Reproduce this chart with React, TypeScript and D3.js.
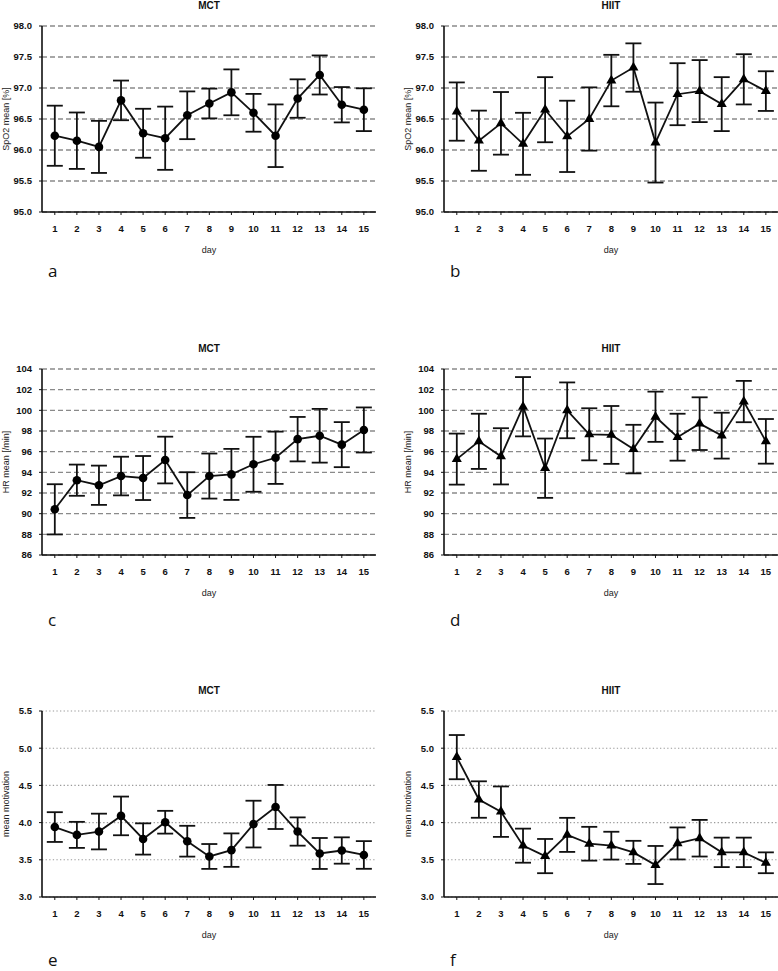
import React, { useEffect, useRef } from "react";
import * as d3 from "d3";

const days = [1, 2, 3, 4, 5, 6, 7, 8, 9, 10, 11, 12, 13, 14, 15];

const spo2MctMean = [96.23, 96.15, 96.05, 96.8, 96.27, 96.19, 96.56, 96.75, 96.93, 96.6, 96.23, 96.83, 97.21, 96.73, 96.65];
const spo2MctSd = [0.485, 0.455, 0.42, 0.32, 0.395, 0.51, 0.385, 0.24, 0.37, 0.305, 0.505, 0.31, 0.315, 0.285, 0.345];
const spo2HiitMean = [96.62, 96.15, 96.43, 96.1, 96.65, 96.22, 96.5, 97.12, 97.33, 96.12, 96.9, 96.95, 96.74, 97.14, 96.95];
const spo2HiitSd = [0.47, 0.485, 0.505, 0.5, 0.525, 0.575, 0.51, 0.415, 0.39, 0.645, 0.5, 0.5, 0.435, 0.405, 0.32];

const hrMctMean = [90.42, 93.24, 92.75, 93.64, 93.45, 95.19, 91.8, 93.64, 93.8, 94.78, 95.41, 97.21, 97.54, 96.68, 98.1];
const hrMctSd = [2.43, 1.51, 1.9, 1.87, 2.13, 2.26, 2.21, 2.18, 2.47, 2.66, 2.53, 2.15, 2.6, 2.18, 2.18];
const hrHiitMean = [95.28, 97.0, 95.55, 100.35, 94.4, 100.0, 97.68, 97.62, 96.25, 99.38, 97.4, 98.71, 97.55, 100.85, 97.0];
const hrHiitSd = [2.47, 2.67, 2.72, 2.87, 2.87, 2.7, 2.52, 2.8, 2.35, 2.43, 2.27, 2.55, 2.22, 2.0, 2.16];

const motMctMean = [3.94, 3.835, 3.88, 4.09, 3.78, 4.005, 3.75, 3.545, 3.63, 3.98, 4.21, 3.88, 3.585, 3.625, 3.565];
const motMctSd = [0.2, 0.175, 0.24, 0.26, 0.21, 0.153, 0.207, 0.167, 0.225, 0.314, 0.296, 0.19, 0.208, 0.177, 0.186];
const motHiitMean = [4.88, 4.31, 4.147, 3.69, 3.55, 3.835, 3.716, 3.69, 3.6, 3.43, 3.72, 3.79, 3.6, 3.6, 3.46];
const motHiitSd = [0.297, 0.245, 0.339, 0.229, 0.23, 0.229, 0.227, 0.187, 0.155, 0.256, 0.215, 0.246, 0.198, 0.198, 0.14];

const spo2Ticks = [95.0, 95.5, 96.0, 96.5, 97.0, 97.5, 98.0];
const hrTicks = [86, 88, 90, 92, 94, 96, 98, 100, 102, 104];
const motTicks = [3.0, 3.5, 4.0, 4.5, 5.0, 5.5];

const panels = [
  { letter: "a", title: "MCT", ylabel: "SpO2 mean [%]", mean: spo2MctMean, sd: spo2MctSd, ticks: spo2Ticks, fmt: ".1f", marker: "circle", col: 0, row: 0, dotted: false },
  { letter: "b", title: "HIIT", ylabel: "SpO2 mean [%]", mean: spo2HiitMean, sd: spo2HiitSd, ticks: spo2Ticks, fmt: ".1f", marker: "triangle", col: 1, row: 0, dotted: false },
  { letter: "c", title: "MCT", ylabel: "HR mean [/min]", mean: hrMctMean, sd: hrMctSd, ticks: hrTicks, fmt: "d", marker: "circle", col: 0, row: 1, dotted: false },
  { letter: "d", title: "HIIT", ylabel: "HR mean [/min]", mean: hrHiitMean, sd: hrHiitSd, ticks: hrTicks, fmt: "d", marker: "triangle", col: 1, row: 1, dotted: false },
  { letter: "e", title: "MCT", ylabel: "mean motivation", mean: motMctMean, sd: motMctSd, ticks: motTicks, fmt: ".1f", marker: "circle", col: 0, row: 2, dotted: true },
  { letter: "f", title: "HIIT", ylabel: "mean motivation", mean: motHiitMean, sd: motHiitSd, ticks: motTicks, fmt: ".1f", marker: "triangle", col: 1, row: 2, dotted: true },
];

// plot frames (left edge per column, top/bottom per row)
const colX = [42, 444];
const plotW = 334;
const rowTop = [26, 369, 711];
const plotH = 186;
const letterY = [277, 626, 966];
const letterX = [48, 450];

const App = () => {
  const svgRef = useRef<SVGSVGElement | null>(null);

  useEffect(() => {
    const svg = d3.select(svgRef.current);
    svg.selectAll("*").remove();
    const font = "Liberation Sans, Arial, sans-serif";

    panels.forEach((p) => {
      const x0 = colX[p.col];
      const x1 = x0 + plotW;
      const y0 = rowTop[p.row];
      const y1 = y0 + plotH;

      const x = d3.scaleLinear().domain([0.42, 15.55]).range([x0, x1]);
      const y = d3
        .scaleLinear()
        .domain([p.ticks[0], p.ticks[p.ticks.length - 1]])
        .range([y1, y0]);

      const g = svg.append("g");

      // grid lines
      g.selectAll(".grid")
        .data(p.ticks)
        .enter()
        .append("line")
        .attr("x1", x0)
        .attr("x2", x1)
        .attr("y1", (d) => y(d))
        .attr("y2", (d) => y(d))
        .attr("stroke", p.dotted ? "#9a9a9a" : "#8a8a8a")
        .attr("stroke-width", p.dotted ? 1.1 : 1.3)
        .attr("stroke-dasharray", p.dotted ? "1.3,2.3" : "5,3");

      // axes
      g.append("line")
        .attr("x1", x0)
        .attr("x2", x0)
        .attr("y1", y0)
        .attr("y2", y1)
        .attr("stroke", "#111")
        .attr("stroke-width", 1.6);
      g.append("line")
        .attr("x1", x0)
        .attr("x2", x1)
        .attr("y1", y1)
        .attr("y2", y1)
        .attr("stroke", "#111")
        .attr("stroke-width", 1.6);

      // y ticks + labels
      g.selectAll(".yt")
        .data(p.ticks)
        .enter()
        .append("line")
        .attr("x1", x0 - 3)
        .attr("x2", x0)
        .attr("y1", (d) => y(d))
        .attr("y2", (d) => y(d))
        .attr("stroke", "#111")
        .attr("stroke-width", 1);
      g.selectAll(".yl")
        .data(p.ticks)
        .enter()
        .append("text")
        .attr("x", x0 - 10)
        .attr("y", (d) => y(d) + 3.4)
        .attr("text-anchor", "end")
        .attr("font-family", font)
        .attr("font-weight", "bold")
        .attr("font-size", 9.5)
        .attr("fill", "#111")
        .text((d) => d3.format(p.fmt)(d));

      // x ticks + labels
      g.selectAll(".xt")
        .data(days)
        .enter()
        .append("line")
        .attr("x1", (d) => x(d))
        .attr("x2", (d) => x(d))
        .attr("y1", y1)
        .attr("y2", y1 + 3)
        .attr("stroke", "#111")
        .attr("stroke-width", 1);
      g.selectAll(".xl")
        .data(days)
        .enter()
        .append("text")
        .attr("x", (d) => x(d))
        .attr("y", y1 + 20)
        .attr("text-anchor", "middle")
        .attr("font-family", font)
        .attr("font-weight", "bold")
        .attr("font-size", 9.5)
        .attr("fill", "#111")
        .text((d) => d);

      // titles
      g.append("text")
        .attr("x", (x0 + x1) / 2)
        .attr("y", y0 - 17)
        .attr("text-anchor", "middle")
        .attr("font-family", font)
        .attr("font-weight", "bold")
        .attr("font-size", 10)
        .attr("fill", "#111")
        .text(p.title);
      g.append("text")
        .attr("x", (x0 + x1) / 2)
        .attr("y", y1 + 41)
        .attr("text-anchor", "middle")
        .attr("font-family", font)
        .attr("font-size", 9)
        .attr("fill", "#222")
        .text("day");
      g.append("text")
        .attr("transform", `translate(${x0 - 33},${(y0 + y1) / 2}) rotate(-90)`)
        .attr("text-anchor", "middle")
        .attr("font-family", font)
        .attr("font-size", 9)
        .attr("fill", "#222")
        .text(p.ylabel);
      g.append("text")
        .attr("x", letterX[p.col])
        .attr("y", letterY[p.row])
        .attr("font-family", "Open Sans, Noto Sans, sans-serif")
        .attr("font-size", 17)
        .attr("fill", "#111")
        .text(p.letter);

      // error bars
      const cap = 8;
      const eb = g.append("g").attr("stroke", "#111").attr("stroke-width", 1.8);
      days.forEach((d, i) => {
        const cx = x(d);
        const hi = y(p.mean[i] + p.sd[i]);
        const lo = y(p.mean[i] - p.sd[i]);
        eb.append("line").attr("x1", cx).attr("x2", cx).attr("y1", hi).attr("y2", lo);
        eb.append("line").attr("x1", cx - cap).attr("x2", cx + cap).attr("y1", hi).attr("y2", hi);
        eb.append("line").attr("x1", cx - cap).attr("x2", cx + cap).attr("y1", lo).attr("y2", lo);
      });

      // mean line
      const line = d3
        .line<number>()
        .x((d, i) => x(days[i]))
        .y((d) => y(d));
      g.append("path")
        .datum(p.mean)
        .attr("d", line)
        .attr("fill", "none")
        .attr("stroke", "#111")
        .attr("stroke-width", 1.8);

      // markers
      if (p.marker === "circle") {
        g.selectAll(".pt")
          .data(p.mean)
          .enter()
          .append("circle")
          .attr("cx", (d, i) => x(days[i]))
          .attr("cy", (d) => y(d))
          .attr("r", 4.3)
          .attr("fill", "#000");
      } else {
        const tri = d3.symbol().type(d3.symbolTriangle).size(44);
        g.selectAll(".pt")
          .data(p.mean)
          .enter()
          .append("path")
          .attr("d", tri)
          .attr("transform", (d, i) => `translate(${x(days[i])},${y(d)})`)
          .attr("fill", "#000");
      }
    });
  }, []);

  return (
    <svg
      ref={svgRef}
      width={778}
      height={971}
      style={{ position: "absolute", left: 0, top: 0, background: "#fff" }}
    ></svg>
  );
};

export default App;
